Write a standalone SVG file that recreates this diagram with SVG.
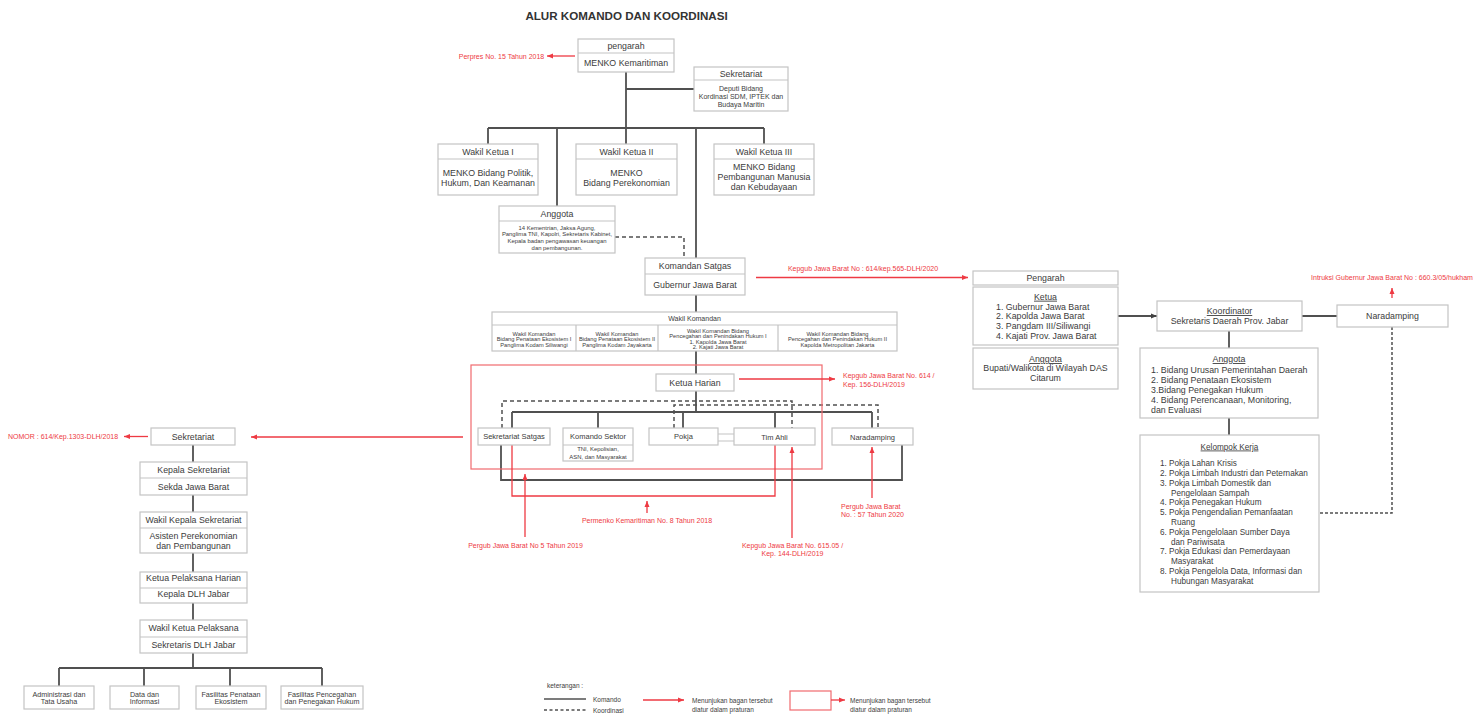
<svg xmlns="http://www.w3.org/2000/svg" width="1483" height="715" viewBox="0 0 1483 715">
<defs>
<style>
.b{fill:#fff;stroke:#c4c4c4;stroke-width:1.2}
.d{stroke:#c4c4c4;stroke-width:1.2;fill:none}
.c{stroke:#505050;stroke-width:1.8;fill:none}
.k{stroke:#505050;stroke-width:1.5;stroke-dasharray:4 3;fill:none}
.o{stroke:#505050;stroke-width:1.5;stroke-dasharray:3 2;fill:none}
.r{stroke:#ee3a43;stroke-width:1.3;fill:none}
.rb{stroke:#f06a6e;stroke-width:1.2;fill:none}
text{font-family:"Liberation Sans",Arial,sans-serif;fill:#3c3c3c;text-anchor:middle}
.s9{font-size:8.8px}
.s8{font-size:8.2px}
.s7{font-size:7px}
.s6{font-size:5.9px}
.s5{font-size:5.7px}
.rt{fill:#ee3a43;font-size:7px}
.l{text-anchor:start}
.u{text-decoration:underline}
</style>
<marker id="ar" markerWidth="6" markerHeight="6" refX="6" refY="3" orient="auto" markerUnits="userSpaceOnUse"><path d="M0,0.5 L6,3 L0,5.5 z" fill="#ee3a43"/></marker>
<marker id="ak" markerWidth="6" markerHeight="6" refX="6" refY="3" orient="auto" markerUnits="userSpaceOnUse"><path d="M0,0.5 L6,3 L0,5.5 z" fill="#404040"/></marker>
</defs>
<rect width="1483" height="715" fill="#fff"/>
<text x="626.5" y="20" style="font-size:11.6px;font-weight:bold;fill:#333">ALUR KOMANDO DAN KOORDINASI</text>

<g id="connectors">
<path class="c" d="M626,72 V144 M488,128 H764 M488,128 V144 M557,128 V206 M696,128 V258 M764,128 V144 M626,89 H694"/>
<path class="k" d="M615,237 H684 V258"/>
<path class="c" d="M696,295 V312 M696,351 V374 M696,391 V412 M512,412 H872 M512,412 V428 M598,412 V428 M683,412 V428 M775,412 V428 M872,412 V428"/>
<path class="k" d="M502,428 V401 H792 V428 M674,428 V405 H878 V428"/>
<path class="d" d="M718,434 H734 M718,441 H734"/>
<path class="c" d="M501,445 V480 H902 V445"/>
<path class="c" d="M193,445 V462 M193,495 V512 M193,553 V572 M193,603 V620 M193,653 V668 M59,668 H322 M59,668 V686 M144,668 V686 M230,668 V686 M322,668 V686"/>
<path class="c" d="M1118,316 H1157" marker-end="url(#ak)"/>
<path class="c" d="M1302,316 H1337 M1229,331 V348 M1229,418 V435"/>
<path class="o" d="M1392,327 V513 H1319"/>
<!-- red regulation arrows -->
<rect class="rb" x="471" y="365" width="351" height="104"/>
<path class="r" d="M575,56 H547" marker-end="url(#ar)"/>
<path class="r" d="M756,277.5 H968" marker-end="url(#ar)"/>
<path class="r" d="M739,379 H835" marker-end="url(#ar)"/>
<path class="r" d="M463,437 H251" marker-end="url(#ar)"/>
<path class="r" d="M148,436.5 H124" marker-end="url(#ar)"/>
<path class="r" d="M512,445 V496 H775 V445"/>
<path class="r" d="M647,513 V501" marker-end="url(#ar)"/>
<path class="r" d="M525,537 V474" marker-end="url(#ar)"/>
<path class="r" d="M792,538 V447" marker-end="url(#ar)"/>
<path class="r" d="M872,498 V447" marker-end="url(#ar)"/>
<path class="r" d="M1392,298 V288" marker-end="url(#ar)"/>
</g>

<g id="labels">
<text class="rt" x="501.5" y="58.5">Perpres No. 15 Tahun 2018</text>
<text class="rt" x="863" y="270.8">Kepgub Jawa Barat No : 614/kep.565-DLH/2020</text>
<text class="rt l" x="843" y="377.5">Kepgub Jawa Barat No. 614 /</text>
<text class="rt l" x="843" y="386.5">Kep. 156-DLH/2019</text>
<text class="rt l" x="8" y="439">NOMOR : 614/Kep.1303-DLH/2018</text>
<text class="rt" x="647" y="522.5">Permenko Kemaritiman No. 8 Tahun 2018</text>
<text class="rt" x="525.5" y="547.8">Pergub Jawa Barat No 5 Tahun 2019</text>
<text class="rt" x="792.5" y="547.8">Kepgub Jawa Barat No. 615.05 /</text>
<text class="rt" x="792.5" y="555.8">Kep. 144-DLH/2019</text>
<text class="rt l" x="841" y="509.2">Pergub Jawa Barat</text>
<text class="rt l" x="841" y="516.8">No. : 57 Tahun 2020</text>
<text class="rt" x="1392" y="280">Intruksi Gubernur Jawa Barat No : 660.3/05/hukham</text>
</g>

<g id="pengarah">
<rect class="b" x="578" y="39" width="96" height="33"/>
<path class="d" d="M578,53 H674"/>
<text class="s9" x="626" y="49">pengarah</text>
<text class="s9" x="626" y="66">MENKO Kemaritiman</text>
</g>
<g id="sekretariat-pusat">
<rect class="b" x="694" y="67" width="94" height="44"/>
<path class="d" d="M694,80 H788"/>
<text class="s9" x="741" y="77">Sekretariat</text>
<text class="s7" x="741" y="90.5">Deputi Bidang</text>
<text class="s7" x="741" y="98.5">Kordinasi SDM, IPTEK dan</text>
<text class="s7" x="741" y="106.5">Budaya Maritin</text>
</g>
<g id="wakil-ketua-1">
<rect class="b" x="438" y="144" width="100" height="51"/>
<path class="d" d="M438,159 H538"/>
<text class="s9" x="488" y="155">Wakil Ketua I</text>
<text class="s9" x="488" y="176">MENKO Bidang Politik,</text>
<text class="s9" x="488" y="185.5">Hukum, Dan Keamanan</text>
</g>
<g id="wakil-ketua-2">
<rect class="b" x="576" y="144" width="101" height="51"/>
<path class="d" d="M576,159 H677"/>
<text class="s9" x="626.5" y="155">Wakil Ketua II</text>
<text class="s9" x="626.5" y="175.5">MENKO</text>
<text class="s9" x="626.5" y="185.5">Bidang Perekonomian</text>
</g>
<g id="wakil-ketua-3">
<rect class="b" x="714" y="144" width="100" height="51"/>
<path class="d" d="M714,159 H814"/>
<text class="s9" x="764" y="155">Wakil Ketua III</text>
<text class="s9" x="764" y="170">MENKO Bidang</text>
<text class="s9" x="764" y="180">Pembangunan Manusia</text>
<text class="s9" x="764" y="190">dan Kebudayaan</text>
</g>
<g id="anggota-pusat">
<rect class="b" x="499" y="206" width="116" height="47"/>
<path class="d" d="M499,221 H615"/>
<text class="s9" x="557" y="217">Anggota</text>
<text class="s6" x="557" y="229.5">14 Kementrian, Jaksa Agung,</text>
<text class="s6" x="557" y="236.2">Panglima TNI, Kapolri, Sekretaris Kabinet,</text>
<text class="s6" x="557" y="242.9">Kepala badan pengawasan keuangan</text>
<text class="s6" x="557" y="249.6">dan pembangunan.</text>
</g>
<g id="komandan-satgas">
<rect class="b" x="645" y="258" width="100" height="37"/>
<path class="d" d="M645,274 H745"/>
<text class="s9" x="695" y="269">Komandan Satgas</text>
<text class="s9" x="695" y="288">Gubernur Jawa Barat</text>
</g>
<g id="wakil-komandan">
<rect class="b" x="492" y="312" width="405" height="39"/>
<path class="d" d="M492,325 H897 M576,325 V351 M658,325 V351 M778,325 V351"/>
<text class="s7" x="694.5" y="321">Wakil Komandan</text>
<text class="s5" x="534" y="336">Wakil Komandan</text>
<text class="s5" x="534" y="341.3">Bidang Penataan Ekosistem I</text>
<text class="s5" x="534" y="346.6">Panglima Kodam Siliwangi</text>
<text class="s5" x="617" y="336">Wakil Komandan</text>
<text class="s5" x="617" y="341.3">Bidang Penataan Ekosistem II</text>
<text class="s5" x="617" y="346.6">Panglima Kodam Jayakarta</text>
<text class="s5" x="718" y="333">Wakil Komandan Bidang</text>
<text class="s5" x="718" y="338.3">Pencegahan dan Penindakan Hukum I</text>
<text class="s5" x="718" y="343.6">1. Kapolda Jawa Barat</text>
<text class="s5" x="718" y="348.9">2. Kajati Jawa Barat</text>
<text class="s5" x="837.5" y="336">Wakil Komandan Bidang</text>
<text class="s5" x="837.5" y="341.3">Pencegahan dan Penindakan Hukum II</text>
<text class="s5" x="837.5" y="346.6">Kapolda Metropolitan Jakarta</text>
</g>
<g id="ketua-harian">
<rect class="b" x="656" y="374" width="78" height="17"/>
<text class="s9" x="695" y="385.5">Ketua Harian</text>
</g>
<g id="sekretariat-satgas">
<rect class="b" x="478" y="428" width="72" height="17"/>
<text x="514" y="439.3" style="font-size:7.5px">Sekretariat Satgas</text>
</g>
<g id="komando-sektor">
<rect class="b" x="563" y="428" width="70" height="33"/>
<path class="d" d="M563,445 H633"/>
<text x="598" y="439.3" style="font-size:7.5px">Komando Sektor</text>
<text class="s6" x="598" y="451.4">TNI, Kepolisian,</text>
<text class="s6" x="598" y="458.8">ASN, dan Masyarakat</text>
</g>
<g id="pokja">
<rect class="b" x="649" y="428" width="69" height="17"/>
<text x="683.5" y="438.6" style="font-size:7.5px">Pokja</text>
</g>
<g id="tim-ahli">
<rect class="b" x="734" y="428" width="81" height="17"/>
<text x="774.5" y="439.5" style="font-size:7.5px">Tim Ahli</text>
</g>
<g id="naradamping-satgas">
<rect class="b" x="832" y="428" width="81" height="17"/>
<text x="872.5" y="439.5" style="font-size:7.5px">Naradamping</text>
</g>

<g id="sekretariat-kiri">
<rect class="b" x="151" y="428" width="84" height="17"/>
<text class="s9" x="193" y="439.5">Sekretariat</text>
</g>
<g id="kepala-sekretariat">
<rect class="b" x="140" y="462" width="107" height="33"/>
<path class="d" d="M140,478 H247"/>
<text class="s9" x="193.5" y="473">Kepala Sekretariat</text>
<text class="s9" x="193.5" y="489.5">Sekda Jawa Barat</text>
</g>
<g id="wakil-kepala-sekretariat">
<rect class="b" x="140" y="512" width="107" height="41"/>
<path class="d" d="M140,528 H247"/>
<text class="s9" x="193.5" y="522.5">Wakil Kepala Sekretariat</text>
<text class="s9" x="193.5" y="538.7">Asisten Perekonomian</text>
<text class="s9" x="193.5" y="548.7">dan Pembangunan</text>
</g>
<g id="ketua-pelaksana-harian">
<rect class="b" x="140" y="572" width="107" height="31"/>
<path class="d" d="M140,588 H247"/>
<text class="s9" x="193.5" y="580.5">Ketua Pelaksana Harian</text>
<text class="s9" x="193.5" y="597.3">Kepala DLH Jabar</text>
</g>
<g id="wakil-ketua-pelaksana">
<rect class="b" x="140" y="620" width="107" height="33"/>
<path class="d" d="M140,637 H247"/>
<text class="s9" x="193.5" y="630.7">Wakil Ketua Pelaksana</text>
<text class="s9" x="193.5" y="648">Sekretaris DLH Jabar</text>
</g>
<g id="administrasi">
<rect class="b" x="24" y="686" width="70" height="23"/>
<text x="59" y="696.5" style="font-size:7.2px">Administrasi dan</text>
<text x="59" y="704.2" style="font-size:7.2px">Tata Usaha</text>
</g>
<g id="data-informasi">
<rect class="b" x="110" y="686" width="69" height="23"/>
<text x="144.5" y="696.5" style="font-size:7.2px">Data dan</text>
<text x="144.5" y="704.2" style="font-size:7.2px">Informasi</text>
</g>
<g id="fasilitas-penataan">
<rect class="b" x="196" y="686" width="70" height="23"/>
<text x="231" y="696.5" style="font-size:7.2px">Fasilitas Penataan</text>
<text x="231" y="704.2" style="font-size:7.2px">Ekosistem</text>
</g>
<g id="fasilitas-pencegahan">
<rect class="b" x="281" y="686" width="82" height="23"/>
<text x="322" y="696.5" style="font-size:7.2px">Fasilitas Pencegahan</text>
<text x="322" y="704.2" style="font-size:7.2px">dan Penegakan Hukum</text>
</g>

<g id="pengarah-jabar">
<rect class="b" x="973" y="271" width="145" height="14"/>
<text class="s9" x="1045.5" y="281">Pengarah</text>
</g>
<g id="ketua-jabar">
<rect class="b" x="973" y="287" width="145" height="58"/>
<text class="s9 u" x="1045.5" y="299.7">Ketua </text>
<text class="s9 l" x="996" y="309.7">1. Gubernur Jawa Barat</text>
<text class="s9 l" x="996" y="319.3">2. Kapolda Jawa Barat</text>
<text class="s9 l" x="996" y="329">3. Pangdam III/Siliwangi</text>
<text class="s9 l" x="996" y="338.7">4. Kajati Prov. Jawa Barat</text>
</g>
<g id="anggota-jabar">
<rect class="b" x="973" y="348" width="145" height="41"/>
<text class="s9 u" x="1045.5" y="362">Anggota</text>
<text class="s9" x="1045.5" y="371.3">Bupati/Walikota di Wilayah DAS</text>
<text class="s9" x="1045.5" y="381.3">Citarum</text>
</g>
<g id="koordinator">
<rect class="b" x="1157" y="301" width="145" height="30"/>
<text class="s9 u" x="1229.5" y="314">Koordinator </text>
<text class="s9" x="1229.5" y="324">Sekretaris Daerah Prov. Jabar</text>
</g>
<g id="naradamping-jabar">
<rect class="b" x="1337" y="305" width="111" height="22"/>
<text class="s9" x="1392.5" y="318.7">Naradamping</text>
</g>
<g id="anggota-koordinator">
<rect class="b" x="1140" y="348" width="178" height="70"/>
<text class="s9 u" x="1229" y="362">Anggota</text>
<text class="s9 l" x="1151" y="373">1. Bidang Urusan Pemerintahan Daerah</text>
<text class="s9 l" x="1151" y="383">2. Bidang Penataan Ekosistem</text>
<text class="s9 l" x="1151" y="393">3.Bidang Penegakan Hukum</text>
<text class="s9 l" x="1151" y="403">4. Bidang Perencanaan, Monitoring,</text>
<text class="s9 l" x="1151" y="412.8">dan Evaluasi</text>
</g>
<g id="kelompok-kerja">
<rect class="b" x="1140" y="435" width="179" height="157"/>
<text class="s8 u" x="1229.5" y="449.5">Kelompok Kerja</text>
<text class="s8 l" x="1160" y="466.2">1. Pokja Lahan Krisis</text>
<text class="s8 l" x="1160" y="476">2. Pokja Limbah Industri dan Peternakan</text>
<text class="s8 l" x="1160" y="485.8">3. Pokja Limbah Domestik dan</text>
<text class="s8 l" x="1171" y="495.6">Pengelolaan Sampah</text>
<text class="s8 l" x="1160" y="505.4">4. Pokja Penegakan Hukum</text>
<text class="s8 l" x="1160" y="515.2">5. Pokja Pengendalian Pemanfaatan</text>
<text class="s8 l" x="1171" y="525">Ruang</text>
<text class="s8 l" x="1160" y="534.8">6. Pokja Pengelolaan Sumber Daya</text>
<text class="s8 l" x="1171" y="544.6">dan Pariwisata</text>
<text class="s8 l" x="1160" y="554.4">7. Pokja Edukasi dan Pemerdayaan</text>
<text class="s8 l" x="1171" y="564.2">Masyarakat</text>
<text class="s8 l" x="1160" y="574">8. Pokja Pengelola Data, Informasi dan</text>
<text class="s8 l" x="1171" y="583.8">Hubungan Masyarakat</text>
</g>

<g id="legend">
<text class="l" x="547" y="688" style="font-size:6.5px">keterangan :</text>
<path class="c" d="M544,699 H586" style="stroke-width:1.5"/>
<text class="l" x="593" y="702" style="font-size:6.5px">Komando</text>
<path class="k" d="M544,710 H586" style="stroke-dasharray:3 2.5"/>
<text class="l" x="593" y="713" style="font-size:6.5px">Koordinasi</text>
<path class="r" d="M643,700 H684" marker-end="url(#ar)"/>
<text class="l" x="692" y="702.5" style="font-size:6.5px">Menunjukan bagan tersebut</text>
<text class="l" x="692" y="712" style="font-size:6.5px">diatur dalam praturan</text>
<rect class="rb" x="790" y="691" width="41" height="19"/>
<path class="r" d="M831,700 H845" marker-end="url(#ar)"/>
<text class="l" x="850" y="702.5" style="font-size:6.5px">Menunjukan bagan tersebut</text>
<text class="l" x="850" y="712" style="font-size:6.5px">diatur dalam praturan</text>
</g>
</svg>
